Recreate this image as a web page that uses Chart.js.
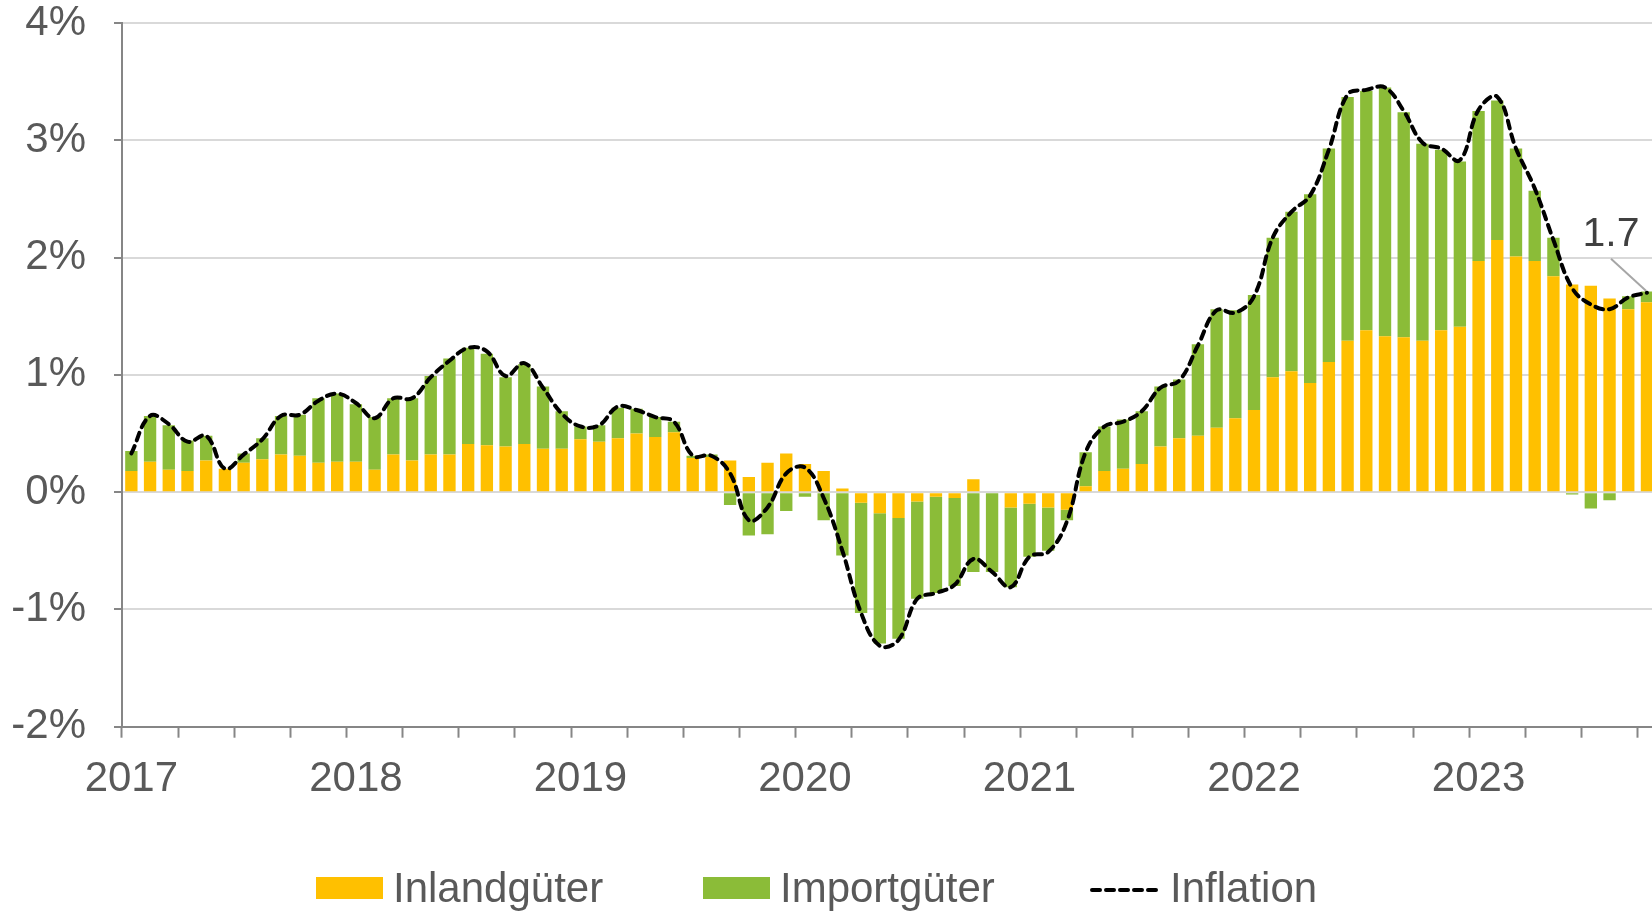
<!DOCTYPE html>
<html><head><meta charset="utf-8">
<script src="https://cdn.jsdelivr.net/npm/chart.js@4.4.1/dist/chart.umd.min.js"></script>
<style>
html,body{margin:0;padding:0;background:#fff;overflow:hidden;width:1652px;height:914px}
#wrap{width:1664px;height:914px}
canvas{display:block}
</style></head><body><div id="wrap"><canvas id="c" width="1664" height="914"></canvas></div>
<script>
const months = [
 "2017-01","2017-02","2017-03","2017-04","2017-05","2017-06","2017-07","2017-08","2017-09","2017-10","2017-11","2017-12",
 "2018-01","2018-02","2018-03","2018-04","2018-05","2018-06","2018-07","2018-08","2018-09","2018-10","2018-11","2018-12",
 "2019-01","2019-02","2019-03","2019-04","2019-05","2019-06","2019-07","2019-08","2019-09","2019-10","2019-11","2019-12",
 "2020-01","2020-02","2020-03","2020-04","2020-05","2020-06","2020-07","2020-08","2020-09","2020-10","2020-11","2020-12",
 "2021-01","2021-02","2021-03","2021-04","2021-05","2021-06","2021-07","2021-08","2021-09","2021-10","2021-11","2021-12",
 "2022-01","2022-02","2022-03","2022-04","2022-05","2022-06","2022-07","2022-08","2022-09","2022-10","2022-11","2022-12",
 "2023-01","2023-02","2023-03","2023-04","2023-05","2023-06","2023-07","2023-08","2023-09","2023-10"
];
const inland = [
 0.18,0.26,0.19,0.18,0.27,0.20,0.25,0.28,0.32,0.31,0.25,0.26,
 0.26,0.19,0.32,0.27,0.32,0.32,0.41,0.40,0.39,0.41,0.37,0.37,
 0.45,0.43,0.46,0.50,0.47,0.51,0.29,0.30,0.27,0.13,0.25,0.33,
 0.24,0.18,0.03,-0.09,-0.18,-0.22,-0.08,-0.04,-0.05,0.11,-0.01,-0.13,
 -0.10,-0.13,-0.15,0.05,0.18,0.20,0.24,0.39,0.46,0.48,0.55,0.63,
 0.70,0.98,1.03,0.93,1.11,1.29,1.38,1.33,1.32,1.29,1.38,1.41,
 1.97,2.15,2.01,1.97,1.84,1.77,1.76,1.65,1.56,1.62
];
const imports = [
 0.17,0.39,0.38,0.26,0.21,0.00,0.08,0.18,0.33,0.35,0.55,0.58,
 0.49,0.45,0.48,0.53,0.67,0.82,0.82,0.78,0.59,0.68,0.53,0.32,
 0.11,0.14,0.26,0.21,0.17,0.09,0.02,0.02,-0.11,-0.37,-0.36,-0.16,
 -0.04,-0.24,-0.54,-0.94,-1.11,-1.03,-0.83,-0.82,-0.75,-0.68,-0.67,-0.68,
 -0.45,-0.37,-0.09,0.29,0.38,0.42,0.45,0.51,0.50,0.78,1.01,0.92,
 0.98,1.19,1.36,1.61,1.82,2.08,2.04,2.12,1.92,1.68,1.54,1.41,
 1.28,1.19,0.92,0.60,0.33,-0.02,-0.14,-0.07,0.11,0.09
];
const inflation = [
 0.33,0.65,0.58,0.43,0.48,0.20,0.32,0.45,0.65,0.66,0.78,0.84,
 0.76,0.63,0.80,0.80,0.98,1.12,1.23,1.20,0.99,1.10,0.89,0.67,
 0.56,0.57,0.73,0.70,0.64,0.60,0.31,0.31,0.16,-0.24,-0.13,0.16,
 0.21,-0.05,-0.50,-1.03,-1.31,-1.26,-0.91,-0.86,-0.79,-0.57,-0.68,-0.81,
 -0.55,-0.51,-0.25,0.34,0.56,0.60,0.69,0.89,0.95,1.25,1.55,1.53,
 1.67,2.17,2.39,2.53,2.92,3.39,3.43,3.45,3.25,2.98,2.93,2.83,
 3.26,3.37,2.93,2.59,2.15,1.74,1.60,1.56,1.66,1.70
];
const seriesNames = ["Inlandgüter","Importgüter","Inflation"];
const yTicks = [-2,-1,0,1,2,3,4];

const FONT = '"Liberation Sans", Arial, Helvetica, sans-serif';
const TXT = '#595959';
const AXIS = '#868686';
const YELLOW = '#FFC000';
const GREEN = '#8BBC38';

const overlay = {
  id: 'overlay',
  afterDraw(chart) {
    const ctx = chart.ctx;
    const ds = chart.data.datasets;
    ctx.save();
    ctx.font = '42px ' + FONT;
    ctx.textBaseline = 'alphabetic';
    ctx.textAlign = 'left';
    const items = [
      {x: 316, w: 67, kind: 'box', color: ds[0].backgroundColor, text: ds[0].label},
      {x: 703, w: 67, kind: 'box', color: ds[1].backgroundColor, text: ds[1].label},
      {x: 1090, w: 70, kind: 'line', color: ds[2].borderColor, text: ds[2].label}
    ];
    items.forEach(it => {
      if (it.kind === 'box') {
        ctx.fillStyle = it.color;
        ctx.fillRect(it.x, 877, it.w, 22);
      } else {
        ctx.strokeStyle = it.color;
        ctx.lineWidth = 4;
        ctx.lineCap = 'round';
        ctx.setLineDash([8, 6]);
        ctx.beginPath();
        ctx.moveTo(it.x + 2, 890);
        ctx.lineTo(it.x + it.w, 890);
        ctx.stroke();
        ctx.setLineDash([]);
      }
      ctx.fillStyle = TXT;
      ctx.fillText(it.text, it.x + it.w + 10, 902);
    });
    const xs = chart.scales.x, ys = chart.scales.y;
    const i = inflation.length - 1;
    const px = xs.getPixelForValue(i), py = ys.getPixelForValue(inflation[i]);
    ctx.strokeStyle = '#A6A6A6';
    ctx.lineWidth = 2;
    ctx.lineCap = 'butt';
    ctx.beginPath();
    ctx.moveTo(px - 36, py - 34);
    ctx.lineTo(px - 1, py - 2);
    ctx.stroke();
    ctx.fillStyle = '#404040';
    ctx.font = '41px ' + FONT;
    ctx.textAlign = 'center';
    ctx.fillText(inflation[i].toFixed(1), px - 36, py - 47);
    ctx.restore();
  }
};

new Chart(document.getElementById('c'), {
  type: 'bar',
  data: {
    labels: months,
    datasets: [
      {label: seriesNames[0], data: inland, backgroundColor: YELLOW, stack: 'bars', order: 1,
       barPercentage: 0.66, categoryPercentage: 1.0},
      {label: seriesNames[1], data: imports, backgroundColor: GREEN, stack: 'bars', order: 1,
       barPercentage: 0.66, categoryPercentage: 1.0},
      {type: 'line', label: seriesNames[2], data: inflation, borderColor: '#000000', backgroundColor: '#000000',
       borderWidth: 4, borderDash: [8, 6], borderCapStyle: 'round', pointRadius: 0, tension: 0.4,
       fill: false, stack: 'infl', order: 0}
    ]
  },
  options: {
    responsive: false,
    animation: false,
    devicePixelRatio: 1,
    layout: {padding: {top: 23, right: 4.5, bottom: 0, left: 0}},
    plugins: {legend: {display: false}, tooltip: {enabled: false}},
    scales: {
      x: {
        stacked: true,
        offset: true,
        grid: {
          display: true, drawOnChartArea: false, offset: true,
          tickLength: 11, tickWidth: 2,
          tickColor: c => (c.index !== undefined && c.index % 3 === 0) ? AXIS : 'rgba(0,0,0,0)'
        },
        border: {display: true, color: AXIS, width: 2},
        ticks: {
          autoSkip: false, maxRotation: 0, minRotation: 0, padding: 17,
          color: TXT, font: {family: FONT, size: 42},
          callback: function(v, idx) { const l = months[idx]; return l.endsWith('-01') ? l.slice(0, 4) : ''; }
        },
        afterFit: s => { s.height = 914 - 726.7; }
      },
      y: {
        stacked: true,
        min: yTicks[0], max: yTicks[yTicks.length - 1],
        afterBuildTicks: s => { s.ticks = yTicks.map(v => ({value: v})); },
        grid: {color: '#D9D9D9', lineWidth: 2, tickLength: 8, tickColor: AXIS, tickWidth: 2},
        border: {display: true, color: AXIS, width: 2},
        ticks: {
          padding: 28, color: TXT, font: {family: FONT, size: 42, lineHeight: 1},
          callback: v => v + '%'
        },
        afterFit: s => { s.width = 122; s.paddingTop = 0; s.paddingBottom = 0; }
      }
    }
  },
  plugins: [overlay]
});
</script>
</body></html>
